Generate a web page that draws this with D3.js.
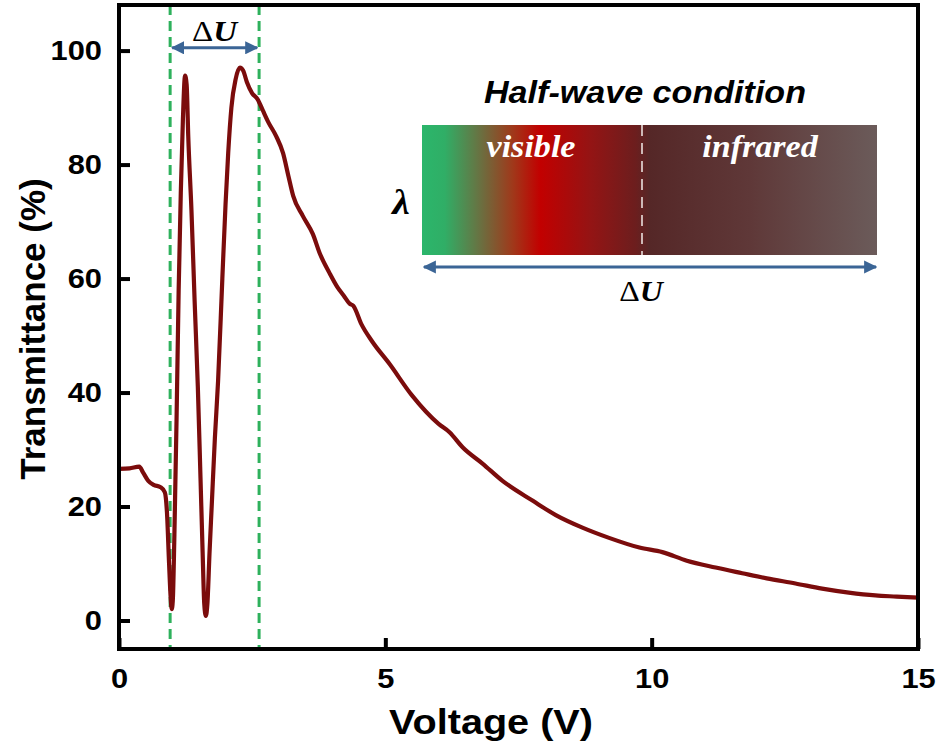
<!DOCTYPE html>
<html>
<head>
<meta charset="utf-8">
<script src="https://cdn.jsdelivr.net/npm/d3@7"></script>
<style>
  body { margin: 0; background: #fff; }
  svg text { font-family: "Liberation Sans", Arial, sans-serif; }
</style>
</head>
<body>
<div id="chart"></div>
<script>
const voltage = [
  0, 0.2, 0.38, 0.45, 0.55, 0.65, 0.78, 0.86, 0.9, 0.94, 0.97, 0.99, 1.01, 1.04,
  1.08, 1.12, 1.16, 1.2, 1.24, 1.27, 1.3, 1.36, 1.42, 1.48, 1.53, 1.57, 1.6, 1.63,
  1.66, 1.7, 1.74, 1.8, 1.86, 1.94, 2.0, 2.05, 2.11, 2.19, 2.27, 2.33, 2.4, 2.5,
  2.6, 2.7, 2.8, 2.95, 3.08, 3.18, 3.27, 3.45, 3.64, 3.77, 3.95, 4.1, 4.22, 4.33,
  4.4, 4.55, 4.75, 5.08, 5.5, 6.0, 6.21, 6.45, 6.83, 7.2, 7.77, 8.2, 8.7, 9.2,
  9.77, 10.2, 10.66, 11.2, 11.7, 12.16, 12.7, 13.2, 13.7, 14.2, 14.6, 15
];
const transmittance = [
  26.6, 26.7, 27.0, 26.0, 24.5, 23.8, 23.4, 22.5, 19, 10, 4, 2.0, 3.5, 15,
  35, 58, 75, 88, 95.6, 94, 85, 72, 56, 41, 25, 12, 3, 0.8,
  3, 12, 20, 32, 42, 60, 73, 82, 90, 95, 97.0, 96.5, 94.5, 92.5,
  91.5, 89.5, 87.5, 85, 82, 78, 74.5, 71, 67.8, 64.4, 61, 58.5, 57, 55.6,
  55.2, 52, 49, 45, 39.5, 34.5, 33, 30.4, 27.5, 24.5, 21, 18.5, 16.3, 14.5,
  12.8, 12, 10.5, 9.3, 8.3, 7.4, 6.5, 5.6, 4.9, 4.4, 4.2, 4.0
];
const xTicks = [0, 5, 10, 15];
const yTicks = [0, 20, 40, 60, 80, 100];
const deltaU = [0.96, 2.63];
const bandLabels = ["visible", "infrared"];
const bandStops = [
  { offset: 0, color: "#2bb66b" },
  { offset: 0.05, color: "#30ae66" },
  { offset: 0.13, color: "#6b6f40" },
  { offset: 0.2, color: "#a0381a" },
  { offset: 0.26, color: "#c20000" },
  { offset: 0.37, color: "#941414" },
  { offset: 0.47, color: "#6c1e1e" },
  { offset: 0.5, color: "#552727" },
  { offset: 0.72, color: "#5f3838" },
  { offset: 1, color: "#6b5b5a" }
];

// the source picture is a bit wider than tall, so text is stretched sideways
const SX = 1.1;

const width = 941, height = 749;
const margin = { top: 5, right: 23, bottom: 100, left: 119 };
const innerW = width - margin.left - margin.right;
const innerH = height - margin.top - margin.bottom;

const svg = d3.select("#chart").append("svg")
  .attr("width", width).attr("height", height);

const defs = svg.append("defs");
defs.append("marker")
  .attr("id", "arrow").attr("viewBox", "0 0 10 10").attr("refX", 9).attr("refY", 5)
  .attr("markerWidth", 4.4).attr("markerHeight", 4.4).attr("orient", "auto-start-reverse")
  .append("path").attr("d", "M0,0 L10,5 L0,10 Z").attr("fill", "#3b6596");

function label(parent, x, y, size) {
  return parent.append("g").attr("transform", `translate(${x},${y}) scale(${SX},1)`)
    .append("text").attr("text-anchor", "middle").attr("font-size", size);
}

function deltaLabel(parent, x, y, size) {
  const t = label(parent, x, y, size).style("font-family", "'Liberation Serif', serif");
  t.append("tspan").text("Δ");
  t.append("tspan").attr("font-weight", "bold").attr("font-style", "italic").text("U");
  return t;
}

const g = svg.append("g").attr("transform", `translate(${margin.left},${margin.top})`);

const x = d3.scaleLinear().domain([0, 15]).range([0, innerW]);
const y = d3.scaleLinear().domain([-5, 108]).range([innerH, 0]);

// dashed ΔU bounds
g.selectAll(".bound").data(deltaU).join("line")
  .attr("x1", (d) => x(d)).attr("x2", (d) => x(d))
  .attr("y1", 0).attr("y2", innerH)
  .attr("stroke", "#2eb15c").attr("stroke-width", 3)
  .attr("stroke-dasharray", "10,6");

g.append("line")
  .attr("x1", x(deltaU[0]) + 2).attr("x2", x(deltaU[1]) - 2)
  .attr("y1", y(100.5)).attr("y2", y(100.5))
  .attr("stroke", "#3b6596").attr("stroke-width", 3)
  .attr("marker-start", "url(#arrow)").attr("marker-end", "url(#arrow)");

deltaLabel(g, x((deltaU[0] + deltaU[1]) / 2), 36, 30);

// curve
const pts = voltage.map((v, i) => [v, transmittance[i]]);
g.append("path").datum(pts)
  .attr("fill", "none").attr("stroke", "#7b0c0c").attr("stroke-width", 4.2)
  .attr("stroke-linejoin", "round")
  .attr("d", d3.line().x((d) => x(d[0])).y((d) => y(d[1])).curve(d3.curveMonotoneX));

// axes
const xAxis = g.append("g").attr("transform", `translate(0,${innerH})`)
  .call(d3.axisBottom(x).tickValues(xTicks).tickSizeInner(-11).tickSizeOuter(0).tickPadding(19));
const yAxis = g.append("g")
  .call(d3.axisLeft(y).tickValues(yTicks).tickSizeInner(-11).tickSizeOuter(0).tickPadding(15.5));
[xAxis, yAxis].forEach((a) => {
  a.select(".domain").remove();
  a.selectAll(".tick line").attr("stroke", "#000").attr("stroke-width", 4);
  a.selectAll(".tick text").attr("font-size", 28).attr("font-weight", "bold")
    .attr("fill", "#000").attr("transform", `scale(${SX},1)`)
    .style("font-family", "'Liberation Sans', Arial, sans-serif");
});

g.append("rect").attr("width", innerW).attr("height", innerH)
  .attr("fill", "none").attr("stroke", "#000").attr("stroke-width", 4);

label(svg, 491, 734, 36).attr("font-weight", "bold").text("Voltage (V)");
svg.append("text")
  .attr("transform", `translate(45,329) rotate(-90)`)
  .attr("text-anchor", "middle").attr("font-size", 35).attr("font-weight", "bold")
  .text("Transmittance (%)");

// inset
const band = { x0: 422, x1: 877, y0: 125, y1: 255, split: 642 };
const grad = defs.append("linearGradient").attr("id", "band")
  .attr("x1", "0%").attr("x2", "100%").attr("y1", "0%").attr("y2", "0%");
grad.selectAll("stop").data(bandStops).join("stop")
  .attr("offset", (d) => d.offset).attr("stop-color", (d) => d.color);

svg.append("rect")
  .attr("x", band.x0).attr("y", band.y0)
  .attr("width", band.x1 - band.x0).attr("height", band.y1 - band.y0)
  .attr("fill", "url(#band)");
svg.append("line")
  .attr("x1", band.split).attr("x2", band.split).attr("y1", band.y0).attr("y2", band.y1)
  .attr("stroke", "#d9c9c7").attr("stroke-width", 1.8).attr("stroke-dasharray", "11,7");

label(svg, 645, 103, 31).attr("font-weight", "bold").attr("font-style", "italic")
  .text("Half-wave condition");

[531, 760].forEach((cx, i) => {
  label(svg, cx, 157, 31).style("font-family", "'Liberation Serif', serif")
    .attr("font-weight", "bold").attr("font-style", "italic")
    .attr("fill", "#fff").text(bandLabels[i]);
});

label(svg, 401, 214, 36).style("font-family", "'Liberation Serif', serif")
  .attr("font-weight", "bold").attr("font-style", "italic").text("λ");

svg.append("line")
  .attr("x1", band.x0 + 2).attr("x2", band.x1 - 1).attr("y1", 267).attr("y2", 267)
  .attr("stroke", "#3b6596").attr("stroke-width", 3)
  .attr("marker-start", "url(#arrow)").attr("marker-end", "url(#arrow)");

deltaLabel(svg, 641, 301, 29);
</script>
</body>
</html>
